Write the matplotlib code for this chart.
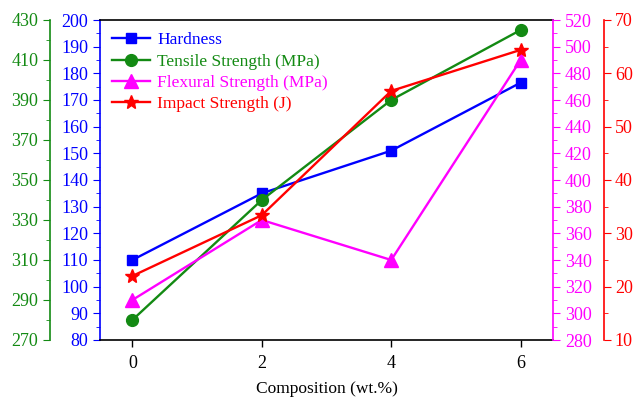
import matplotlib
matplotlib.use("Agg")
import matplotlib.pyplot as plt
from matplotlib.ticker import MultipleLocator, FixedLocator
import numpy as np

plt.rcParams['font.family'] = ['Liberation Serif', 'DejaVu Serif']
plt.rcParams['font.size'] = 12.5

composition = [0, 2, 4, 6]
hardness = [110, 135, 151, 176.5]
tensile = [280, 340, 390, 425]
flexural = [310, 370, 340, 490]
impact = [22, 33.4, 56.7, 64.4]

BLUE = '#0000ff'
GREEN = '#138a13'
MAG = '#ff00ff'
RED = '#ff0000'

fig = plt.figure(figsize=(6.33, 4.0), dpi=100)
ax = fig.add_axes([100/633, 60/400, 453/633, 320/400])
ax2 = ax.twinx()
ax3 = ax.twinx()
ax4 = ax.twinx()

lw = 1.7
l1, = ax.plot(composition, hardness, color=BLUE, marker='s', ms=7.5, lw=lw, label='Hardness')
l2, = ax2.plot(composition, tensile, color=GREEN, marker='o', ms=8.5, lw=lw, label='Tensile Strength (MPa)')
l3, = ax3.plot(composition, flexural, color=MAG, marker='^', ms=9.5, lw=lw, label='Flexural Strength (MPa)')
l4, = ax4.plot(composition, impact, color=RED, marker='*', ms=10.5, lw=lw, label='Impact Strength (J)')

ax.set_xlim(-0.5, 6.5)
ax.set_xticks([0, 2, 4, 6])
ax.set_xlabel('Composition (wt.%)', labelpad=6, fontsize=12.5)
ax.tick_params(axis='x', direction='out', length=5, width=1, colors='black', pad=6, labelsize=13)

def style(a, color, major, minor):
    a.yaxis.set_major_locator(major)
    a.yaxis.set_minor_locator(minor)
    a.tick_params(axis='y', which='both', colors=color, direction='out', labelsize=13)
    a.tick_params(axis='y', which='major', length=5)
    a.tick_params(axis='y', which='minor', length=3)

# blue main left
ax.set_ylim(80, 200)
style(ax, BLUE, MultipleLocator(10), MultipleLocator(5))
ax.spines['left'].set_color(BLUE)
ax.spines['left'].set_linewidth(1.2)

# green outer left
ax2.set_ylim(270, 430)
ax2.yaxis.set_ticks_position('left')
ax2.yaxis.set_label_position('left')
ax2.spines['left'].set_position(('outward', 36))
ax2.spines['left'].set_visible(True)
ax2.spines['left'].set_color(GREEN)
ax2.spines['left'].set_linewidth(1.2)
for s in ['right', 'top', 'bottom']:
    ax2.spines[s].set_visible(False)
style(ax2, GREEN, FixedLocator(np.arange(270, 431, 20)), FixedLocator(np.arange(280, 430, 20)))

# magenta inner right
ax3.set_ylim(280, 520)
ax3.spines['right'].set_color(MAG)
ax3.spines['right'].set_linewidth(1.2)
for s in ['left', 'top', 'bottom']:
    ax3.spines[s].set_visible(False)
style(ax3, MAG, MultipleLocator(20), MultipleLocator(10))

# red outer right
ax4.set_ylim(10, 70)
ax4.spines['right'].set_position(('outward', 37))
ax4.spines['right'].set_color(RED)
ax4.spines['right'].set_linewidth(1.2)
for s in ['left', 'top', 'bottom']:
    ax4.spines[s].set_visible(False)
style(ax4, RED, MultipleLocator(10), MultipleLocator(5))
ax4.tick_params(axis='y', which='major', pad=2.5)

ax.spines['top'].set_linewidth(1.2)
ax.spines['bottom'].set_linewidth(1.2)
ax.spines['right'].set_visible(False)

leg = ax4.legend(handles=[l1, l2, l3, l4], loc='upper left', frameon=False,
                 handlelength=2.2, handletextpad=0.4, labelspacing=0.3,
                 borderaxespad=0.3, fontsize=12.5)
for t, c in zip(leg.get_texts(), [BLUE, GREEN, MAG, RED]):
    t.set_color(c)

fig.savefig('out.png', dpi=100)
